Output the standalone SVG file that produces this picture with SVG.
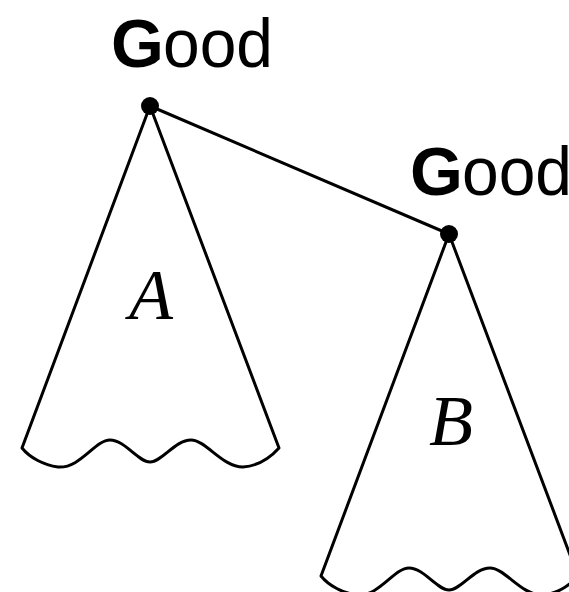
<svg xmlns="http://www.w3.org/2000/svg" width="569" height="592" viewBox="0 0 569 592">
<defs>
<style>
.tree{fill:none;stroke:#000;stroke-width:3;stroke-linejoin:round}
.edge{fill:none;stroke:#000;stroke-width:3}
.dot{fill:#000}
.lbl{font-family:"Liberation Sans","DejaVu Sans",sans-serif;font-size:68px;fill:#000}
.var{font-family:"Liberation Serif","DejaVu Serif",serif;font-style:italic;font-size:72px;fill:#000}
</style>
<path id="cone" class="tree" d="M150,106 L22,448 C30,458 44,465 58,467 C80,469 95,440 110,440 C125,440 138,462 150,462 C162,462 175,440 191,440 C206,440 222,467 243,467 C257,466 270,458 279,448 Z"/>
</defs>
<g id="connectors">
<line class="edge" x1="150" y1="106" x2="449" y2="234"/>
</g>
<g id="nodeA">
<use href="#cone"/>
<circle class="dot" cx="150" cy="106" r="9"/>
<text class="lbl" y="67"><tspan x="111" font-weight="bold">G</tspan><tspan x="163" textLength="110" lengthAdjust="spacingAndGlyphs">ood</tspan></text>
<text class="var" x="151" y="319" text-anchor="middle">A</text>
</g>
<g id="nodeB">
<use href="#cone" transform="translate(299,128)"/>
<circle class="dot" cx="449" cy="234" r="9"/>
<text class="lbl" y="195"><tspan x="410" font-weight="bold">G</tspan><tspan x="462" textLength="110" lengthAdjust="spacingAndGlyphs">ood</tspan></text>
<text class="var" x="451" y="445" text-anchor="middle">B</text>
</g>
</svg>
